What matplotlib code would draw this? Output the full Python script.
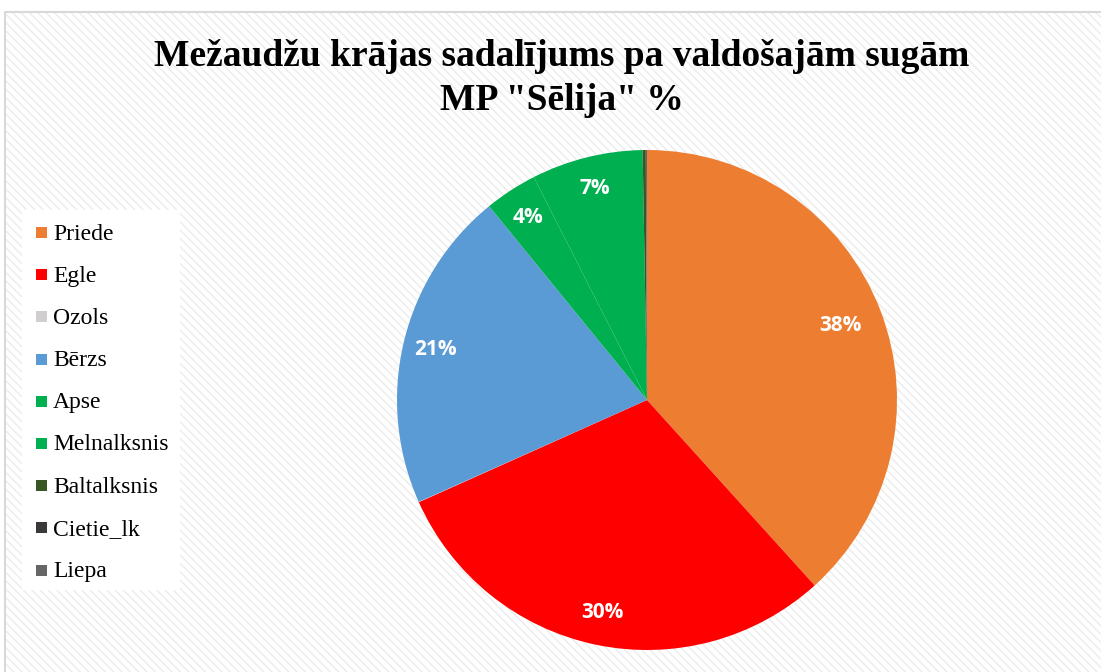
import matplotlib
matplotlib.use("Agg")
import matplotlib.pyplot as plt
from matplotlib.patches import Rectangle
import numpy as np

# data (percent of total)
species = ["Priede", "Egle", "Ozols", "Bērzs", "Apse", "Melnalksnis",
           "Baltalksnis", "Cietie_lk", "Liepa"]
shares = [38.3, 30.0, 0.02, 20.8, 3.4, 7.2, 0.2, 0.01, 0.07]
colors = ["#ED7D31", "#FF0000", "#D0CECE", "#5B9BD5", "#00B050", "#00B050",
          "#375623", "#3B3838", "#666666"]
shown = ["38%", "30%", "", "21%", "4%", "7%", "", "", ""]

fig = plt.figure(figsize=(11.01, 6.72), dpi=100)
W, H = 1101, 672

# chart area with light diagonal stripes and grey border
plt.rcParams['hatch.linewidth'] = 1.0
bg = Rectangle((5 / W, 0), 1.0, 1 - 12 / H, transform=fig.transFigure,
               facecolor='white', edgecolor='#ececec', linewidth=0,
               hatch='\\\\\\\\', zorder=-3)
fig.patches.append(bg)
border = Rectangle((5 / W, -0.01), 1.0, 1 - 12 / H + 0.01, transform=fig.transFigure,
                   facecolor='none', edgecolor='#d9d9d9', linewidth=1.5, zorder=-2)
fig.patches.append(border)

# pie
cx, cy, r = 647, 400, 250
ax = fig.add_axes([(cx - r) / W, (H - cy - r) / H, 2 * r / W, 2 * r / H], zorder=1)
ax.patch.set_visible(False)
wedges, texts = ax.pie(shares, colors=colors, startangle=90, counterclock=False,
                       radius=1.0)
for i, (w, lab) in enumerate(zip(wedges, shown)):
    if not lab:
        continue
    ang = np.deg2rad((w.theta1 + w.theta2) / 2)
    d = 0.83 if i == 0 else 0.87
    ax.text(d * np.cos(ang), d * np.sin(ang), lab, ha='center', va='center',
            color='white', fontsize=15, fontweight='bold', family='Open Sans')
ax.set_xlim(-1, 1)
ax.set_ylim(-1, 1)
ax.set_aspect('equal')
ax.axis('off')

# title
fig.text(562 / W, 1 - 57 / H, "Mežaudžu krājas sadalījums pa valdošajām sugām",
         ha='center', va='center', fontsize=27, fontweight='bold',
         family='Liberation Serif')
fig.text(562 / W, 1 - 101 / H, 'MP "Sēlija" %', ha='center', va='center',
         fontsize=27, fontweight='bold', family='Liberation Serif')

# legend
lbox = Rectangle((22 / W, 1 - 590 / H), 158 / W, 380 / H, transform=fig.transFigure,
                 facecolor='white', edgecolor='none', zorder=-1)
fig.patches.append(lbox)
for i, (name, c) in enumerate(zip(species, colors)):
    y = 232 + i * 42.2
    fig.patches.append(Rectangle((36 / W, 1 - (y + 6) / H), 11 / W, 11 / H,
                                 transform=fig.transFigure, facecolor=c,
                                 edgecolor='none', zorder=2))
    fig.text(53 / W, 1 - (y + 2) / H, name, ha='left', va='center', fontsize=17,
             family='Liberation Serif', zorder=3)

fig.savefig("out.png", dpi=100)
